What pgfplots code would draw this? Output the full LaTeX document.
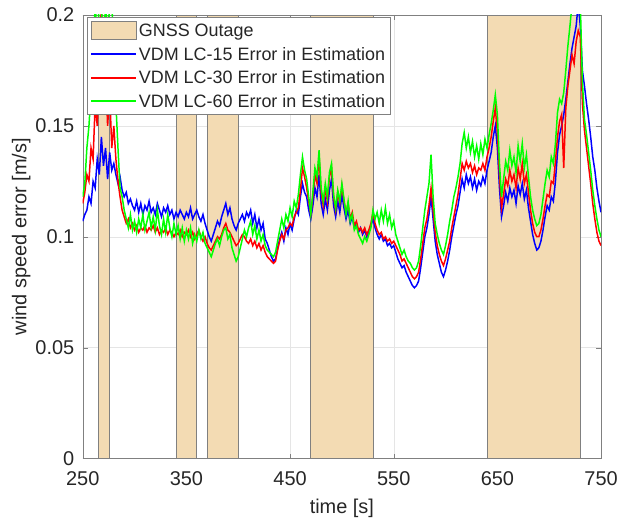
\documentclass[border=0pt]{standalone}
\usepackage{fontspec}
\setmainfont{Liberation Sans}
\usepackage{pgfplots}
\pgfplotsset{compat=1.18}
\usepackage{pgfplotstable}
\definecolor{outage}{RGB}{243,219,179}
\definecolor{edgegray}{RGB}{128,128,128}
\definecolor{txt}{RGB}{38,38,38}
\definecolor{mblue}{RGB}{0,0,255}
\definecolor{mred}{RGB}{255,0,0}
\definecolor{mgreen}{RGB}{0,255,0}
\pgfplotsset{
  linelegend/.style={legend image code/.code={\draw[##1, line width=2pt] (0pt,0pt) -- (45pt,0pt);}},
  outagelegend/.style={legend image code/.code={\draw[##1] (0pt,-9pt) rectangle (45pt,9pt);}},
}

\pgfplotstableread{
t b r g
250 0.107 0.115 0.118
252 0.110 0.120 0.124
254 0.112 0.128 0.140
256 0.118 0.125 0.150
258 0.115 0.140 0.165
260 0.125 0.135 0.180
262 0.122 0.160 0.205
264 0.135 0.150 0.190
266 0.128 0.175 0.205
268 0.145 0.205 0.205
270 0.132 0.160 0.185
272 0.140 0.175 0.205
274 0.126 0.150 0.190
276 0.138 0.165 0.205
278 0.130 0.140 0.205
280 0.133 0.150 0.185
282 0.128 0.135 0.160
284 0.124 0.125 0.140
286 0.127 0.118 0.122
288 0.121 0.112 0.118
290 0.118 0.109 0.112
292 0.120 0.106 0.108
294 0.115 0.108 0.104
296 0.117 0.104 0.110
298 0.114 0.106 0.103
300 0.112 0.103 0.107
302 0.116 0.105 0.102
304 0.111 0.102 0.108
306 0.115 0.104 0.104
308 0.110 0.103 0.110
310 0.114 0.105 0.103
312 0.112 0.102 0.107
314 0.116 0.104 0.111
316 0.111 0.103 0.104
318 0.113 0.105 0.109
320 0.110 0.102 0.103
322 0.115 0.104 0.112
324 0.112 0.101 0.105
326 0.109 0.103 0.101
328 0.113 0.102 0.108
330 0.111 0.104 0.102
332 0.114 0.101 0.110
334 0.110 0.103 0.104
336 0.112 0.102 0.100
338 0.108 0.100 0.106
340 0.111 0.102 0.101
342 0.109 0.101 0.105
344 0.112 0.103 0.099
346 0.110 0.100 0.104
348 0.108 0.102 0.098
350 0.111 0.101 0.103
352 0.109 0.103 0.099
354 0.113 0.100 0.104
356 0.108 0.102 0.097
358 0.110 0.099 0.101
360 0.112 0.101 0.098
362 0.109 0.103 0.103
364 0.107 0.100 0.099
366 0.110 0.098 0.102
368 0.106 0.100 0.097
370 0.103 0.097 0.095
372 0.100 0.095 0.093
374 0.098 0.094 0.091
376 0.101 0.096 0.094
378 0.104 0.098 0.097
380 0.107 0.100 0.099
382 0.105 0.099 0.096
384 0.109 0.101 0.100
386 0.112 0.104 0.103
388 0.115 0.106 0.104
390 0.110 0.103 0.099
392 0.113 0.102 0.101
394 0.108 0.100 0.095
396 0.105 0.098 0.092
398 0.103 0.096 0.089
400 0.106 0.097 0.091
402 0.108 0.099 0.095
404 0.110 0.101 0.099
406 0.107 0.100 0.103
408 0.111 0.098 0.100
410 0.109 0.097 0.104
412 0.112 0.099 0.107
414 0.106 0.096 0.101
416 0.110 0.098 0.105
418 0.104 0.095 0.099
420 0.108 0.097 0.103
422 0.103 0.094 0.098
424 0.106 0.096 0.101
426 0.099 0.093 0.096
428 0.097 0.091 0.094
430 0.094 0.090 0.093
432 0.091 0.089 0.092
434 0.089 0.088 0.091
436 0.090 0.089 0.093
438 0.095 0.094 0.098
440 0.099 0.098 0.103
442 0.102 0.101 0.108
444 0.098 0.099 0.104
446 0.104 0.103 0.110
448 0.101 0.104 0.107
450 0.106 0.106 0.113
452 0.103 0.105 0.109
454 0.108 0.109 0.116
456 0.112 0.111 0.113
458 0.110 0.113 0.119
460 0.118 0.121 0.128
462 0.124 0.131 0.136
464 0.120 0.127 0.130
466 0.118 0.122 0.126
468 0.112 0.116 0.118
470 0.108 0.110 0.110
472 0.114 0.118 0.120
474 0.122 0.128 0.131
476 0.118 0.124 0.127
478 0.128 0.136 0.139
480 0.115 0.120 0.122
482 0.110 0.114 0.116
484 0.117 0.122 0.124
486 0.112 0.116 0.118
488 0.121 0.127 0.129
490 0.126 0.131 0.133
492 0.114 0.118 0.119
494 0.109 0.112 0.113
496 0.116 0.120 0.121
498 0.111 0.115 0.116
500 0.119 0.123 0.124
502 0.113 0.116 0.117
504 0.108 0.111 0.110
506 0.112 0.115 0.116
508 0.106 0.108 0.107
510 0.109 0.111 0.110
512 0.104 0.105 0.103
514 0.106 0.107 0.105
516 0.102 0.103 0.101
518 0.104 0.104 0.099
520 0.101 0.102 0.097
522 0.103 0.104 0.100
524 0.100 0.101 0.098
526 0.102 0.103 0.101
528 0.105 0.106 0.104
530 0.108 0.111 0.112
532 0.104 0.106 0.108
534 0.101 0.103 0.111
536 0.099 0.101 0.106
538 0.101 0.102 0.112
540 0.098 0.099 0.107
542 0.099 0.100 0.113
544 0.096 0.098 0.106
546 0.097 0.099 0.110
548 0.095 0.097 0.104
550 0.096 0.098 0.107
552 0.093 0.096 0.101
554 0.090 0.094 0.098
556 0.088 0.092 0.095
558 0.086 0.089 0.092
560 0.087 0.090 0.094
562 0.084 0.088 0.091
564 0.082 0.086 0.089
566 0.080 0.084 0.088
568 0.078 0.082 0.086
570 0.077 0.081 0.085
572 0.078 0.082 0.086
574 0.080 0.084 0.089
576 0.086 0.090 0.096
578 0.093 0.097 0.104
580 0.100 0.104 0.112
582 0.104 0.108 0.118
584 0.110 0.114 0.124
586 0.118 0.122 0.137
588 0.108 0.112 0.118
590 0.098 0.102 0.106
592 0.092 0.096 0.101
594 0.088 0.092 0.097
596 0.084 0.089 0.094
598 0.082 0.087 0.092
600 0.085 0.090 0.096
602 0.089 0.094 0.101
604 0.094 0.098 0.107
606 0.100 0.104 0.112
608 0.105 0.109 0.118
610 0.110 0.114 0.122
612 0.114 0.119 0.127
614 0.120 0.126 0.133
616 0.126 0.133 0.142
618 0.122 0.130 0.147
620 0.128 0.134 0.140
622 0.124 0.131 0.145
624 0.127 0.133 0.138
626 0.122 0.129 0.143
628 0.126 0.132 0.136
630 0.121 0.128 0.141
632 0.125 0.131 0.135
634 0.123 0.130 0.142
636 0.127 0.133 0.137
638 0.124 0.130 0.144
640 0.130 0.136 0.140
642 0.134 0.140 0.146
644 0.138 0.145 0.151
646 0.145 0.152 0.157
648 0.150 0.158 0.164
650 0.140 0.147 0.155
652 0.122 0.128 0.133
654 0.109 0.113 0.118
656 0.114 0.119 0.126
658 0.120 0.126 0.134
660 0.116 0.123 0.130
662 0.122 0.130 0.139
664 0.118 0.125 0.132
666 0.121 0.128 0.136
668 0.115 0.122 0.129
670 0.123 0.131 0.141
672 0.119 0.126 0.134
674 0.124 0.133 0.142
676 0.117 0.124 0.131
678 0.121 0.128 0.137
680 0.113 0.120 0.127
682 0.107 0.112 0.118
684 0.101 0.106 0.112
686 0.097 0.102 0.108
688 0.094 0.100 0.105
690 0.095 0.100 0.106
692 0.098 0.103 0.110
694 0.103 0.108 0.117
696 0.109 0.114 0.124
698 0.114 0.119 0.130
700 0.112 0.118 0.127
702 0.118 0.125 0.136
704 0.116 0.124 0.133
706 0.125 0.134 0.142
708 0.138 0.145 0.156
710 0.146 0.152 0.162
712 0.150 0.155 0.160
714 0.155 0.131 0.165
716 0.162 0.158 0.175
718 0.170 0.168 0.186
720 0.178 0.175 0.195
722 0.185 0.182 0.205
724 0.190 0.178 0.205
726 0.195 0.188 0.205
728 0.205 0.193 0.205
730 0.195 0.190 0.205
732 0.175 0.160 0.170
734 0.168 0.148 0.153
736 0.160 0.140 0.146
738 0.153 0.132 0.138
740 0.145 0.124 0.130
742 0.136 0.115 0.121
744 0.130 0.108 0.114
746 0.122 0.102 0.108
748 0.116 0.098 0.103
750 0.111 0.096 0.100
}\data

\begin{document}
\begin{tikzpicture}
\begin{axis}[
  scale only axis, width=520pt, height=445pt,
  xmin=250, xmax=750, ymin=0, ymax=0.2,
  xtick={250,350,450,550,650,750},
  xticklabels={250,350,450,550,650,750},
  ytick={0,0.05,0.1,0.15,0.2},
  yticklabels={0,0.05,0.1,0.15,0.2},
  tick label style={font=\fontsize{20}{24}\selectfont, text=txt},
  xticklabel style={yshift=-10pt},
  yticklabel style={xshift=-5pt},
  label style={font=\fontsize{20}{24}\selectfont, text=txt},
  xlabel={time [s]}, ylabel={wind speed error [m/s]},
  xlabel style={yshift=-6pt},
  ylabel style={yshift=-2pt},
  grid=major, major grid style={black!10},
  axis line style={edgegray},
  tick style={edgegray}, tick align=inside, major tick length=5pt,
  legend style={at={(0.008,0.995)}, anchor=north west,
    font=\fontsize{18}{21}\selectfont, draw=edgegray, text=txt,
    row sep=5pt, inner xsep=3pt, inner ysep=4pt},
  legend cell align=left,
  linelegend,
  clip=true,
]
\addplot[fill=outage, draw=edgegray, line width=0.8pt, outagelegend]
  coordinates {(265,0.2) (276,0.2)} \closedcycle;
\addlegendentry{GNSS Outage}
\addplot[fill=outage, draw=edgegray, line width=0.8pt, forget plot]
  coordinates {(340,0.2) (360,0.2)} \closedcycle;
\addplot[fill=outage, draw=edgegray, line width=0.8pt, forget plot]
  coordinates {(370,0.2) (400,0.2)} \closedcycle;
\addplot[fill=outage, draw=edgegray, line width=0.8pt, forget plot]
  coordinates {(470,0.2) (530,0.2)} \closedcycle;
\addplot[fill=outage, draw=edgegray, line width=0.8pt, forget plot]
  coordinates {(640,0.2) (730,0.2)} \closedcycle;
\addplot[mblue, line width=1.5pt] table[x=t, y=b] {\data};
\addlegendentry{VDM LC-15 Error in Estimation}
\addplot[mred, line width=1.5pt] table[x=t, y=r] {\data};
\addlegendentry{VDM LC-30 Error in Estimation}
\addplot[mgreen, line width=1.5pt] table[x=t, y=g] {\data};
\addlegendentry{VDM LC-60 Error in Estimation}
\end{axis}
\path (current axis.south west) ++(-83pt,-63pt) coordinate (bbA);
\path (current axis.north east) ++(18pt,15pt) coordinate (bbB);
\path (bbA) rectangle (bbB);
\end{tikzpicture}
\end{document}
